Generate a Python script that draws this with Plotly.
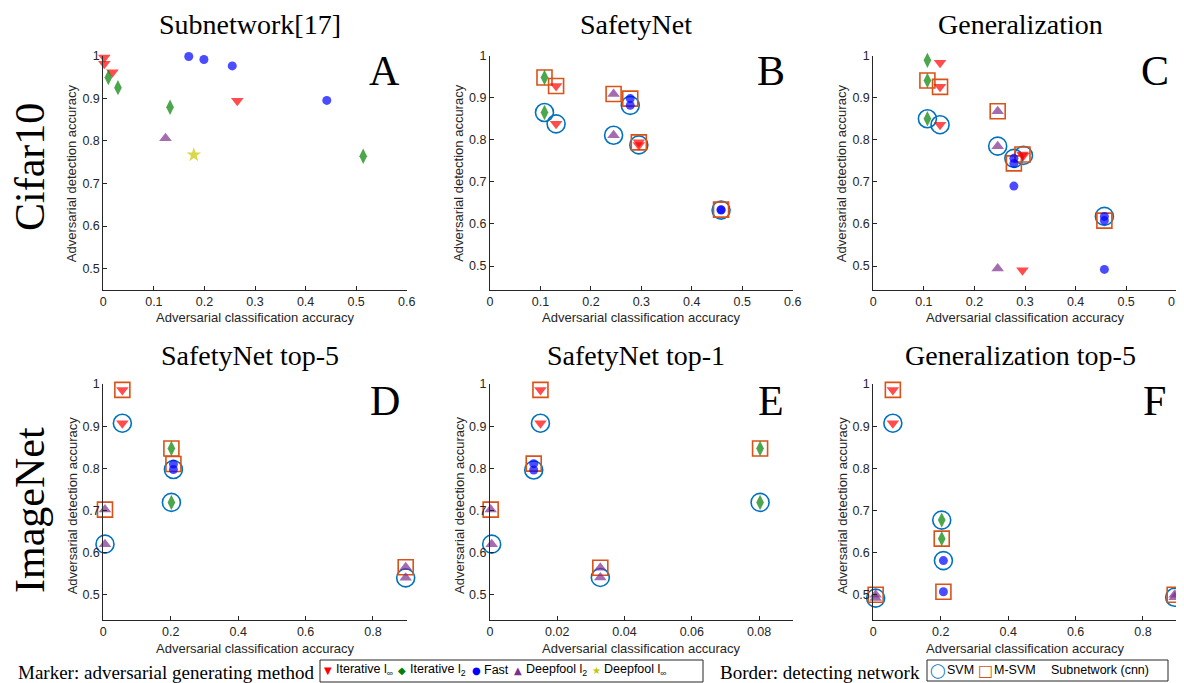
import plotly.graph_objects as go

# page body has an 8px margin: the figure is drawn 8px right / 8px down
OFF = 8
W, H = 1184, 683

# ---------------- data ----------------
# method codes: linf = Iterative l_inf, l2 = Iterative l_2, fast = Fast,
#               df2 = Deepfool l_2, dfinf = Deepfool l_inf
# border codes: svm = SVM, msvm = M-SVM, cnn = Subnetwork (cnn)

a_x = [0.002, 0.002, 0.018, 0.265, 0.010, 0.029, 0.132, 0.514, 0.169, 0.199, 0.255, 0.442, 0.123, 0.179]
a_y = [0.996, 0.981, 0.961, 0.894, 0.949, 0.925, 0.879, 0.764, 0.998, 0.991, 0.976, 0.895, 0.806, 0.767]
a_method = ["linf", "linf", "linf", "linf", "l2", "l2", "l2", "l2", "fast", "fast", "fast", "fast", "df2", "dfinf"]
a_border = ["cnn"] * 14

b_x = [0.108, 0.108, 0.131, 0.131, 0.245, 0.245, 0.278, 0.278, 0.295, 0.295, 0.458, 0.458]
b_y = [0.948, 0.865, 0.928, 0.838, 0.909, 0.811, 0.898, 0.882, 0.794, 0.788, 0.634, 0.633]
b_method = ["l2", "l2", "linf", "linf", "df2", "df2", "fast", "fast", "linf", "linf", "fast", "fast"]
b_border = ["msvm", "svm"] * 6

c_x = [0.107, 0.107, 0.107, 0.132, 0.132, 0.132, 0.246, 0.246, 0.246,
       0.278, 0.278, 0.278, 0.295, 0.297, 0.295, 0.457, 0.457, 0.457]
c_y = [0.989, 0.941, 0.850, 0.983, 0.926, 0.836, 0.868, 0.785, 0.494,
       0.756, 0.744, 0.690, 0.765, 0.763, 0.490, 0.618, 0.608, 0.492]
c_method = ["l2", "l2", "l2", "linf", "linf", "linf", "df2", "df2", "df2",
            "fast", "fast", "fast", "linf", "linf", "linf", "fast", "fast", "fast"]
c_border = ["cnn", "msvm", "svm", "cnn", "msvm", "svm", "msvm", "svm", "cnn",
            "svm", "msvm", "cnn", "msvm", "svm", "cnn", "svm", "msvm", "cnn"]

d_x = [0.0565, 0.0565, 0.202, 0.202, 0.208, 0.208, 0.005, 0.005, 0.897, 0.897]
d_y = [0.986, 0.907, 0.847, 0.719, 0.810, 0.797, 0.702, 0.620, 0.565, 0.540]
d_method = ["linf", "linf", "l2", "l2", "fast", "fast", "df2", "df2", "df2", "df2"]
d_border = ["msvm", "svm"] * 5

e_x = [0.0150, 0.0150, 0.0130, 0.0130, 0.0002, 0.0005, 0.0328, 0.0328, 0.0803, 0.0803]
e_y = [0.986, 0.907, 0.811, 0.796, 0.702, 0.620, 0.564, 0.541, 0.847, 0.719]
e_method = ["linf", "linf", "fast", "fast", "df2", "df2", "df2", "df2", "l2", "l2"]
e_border = ["msvm", "svm"] * 5

f_x = [0.058, 0.058, 0.203, 0.203, 0.208, 0.208, 0.007, 0.007, 0.894, 0.894]
f_y = [0.986, 0.907, 0.677, 0.633, 0.581, 0.507, 0.500, 0.492, 0.500, 0.494]
f_method = ["linf", "linf", "l2", "l2", "fast", "fast", "df2", "df2", "df2", "df2"]
f_border = ["msvm", "svm", "svm", "msvm", "svm", "msvm", "msvm", "svm", "msvm", "svm"]

panel_titles = ["Subnetwork[17]", "SafetyNet", "Generalization",
                "SafetyNet top-5", "SafetyNet top-1", "Generalization top-5"]
panel_letters = ["A", "B", "C", "D", "E", "F"]
row_labels = ["Cifar10", "ImageNet"]
x_ticks_cifar = [0, 0.1, 0.2, 0.3, 0.4, 0.5, 0.6]
x_ticks_imnet = [0, 0.2, 0.4, 0.6, 0.8]
x_ticks_top1 = [0, 0.02, 0.04, 0.06, 0.08]
y_ticks = [0.5, 0.6, 0.7, 0.8, 0.9, 1]
method_keys = ["linf", "l2", "fast", "df2", "dfinf"]
method_names = ["Iterative l<sub>∞</sub>", "Iterative l<sub>2</sub>", "Fast",
                "Deepfool l<sub>2</sub>", "Deepfool l<sub>∞</sub>"]
border_names = ["SVM", "M-SVM", "Subnetwork (cnn)"]

# ---------------- styles ----------------
M_STYLE = {
    "linf": ("triangle-down", "#FF0000", 11, "▼"),
    "l2": ("diamond-tall", "#008000", 11, "◆"),
    "fast": ("circle", "#0000FF", 9, "●"),
    "df2": ("triangle-up", "#7E2F8E", 11, "▲"),
    "dfinf": ("star", "#C8C800", 11, "★"),
}
B_STYLE = {
    "svm": ("circle-open", "#0072BD", 18),
    "msvm": ("square-open", "#D95319", 15),
}
AX = "#262626"
SANS = "Liberation Sans"
SERIF = "Liberation Serif"

panels = [
    (a_x, a_y, a_method, a_border, x_ticks_cifar, [0, 0.6], [0.45, 1]),
    (b_x, b_y, b_method, b_border, x_ticks_cifar, [0, 0.6], [0.443, 1]),
    (c_x, c_y, c_method, c_border, x_ticks_cifar, [0, 0.6], [0.443, 1]),
    (d_x, d_y, d_method, d_border, x_ticks_imnet, [0, 0.9], [0.44, 1]),
    (e_x, e_y, e_method, e_border, x_ticks_top1, [0, 0.09], [0.44, 1]),
    (f_x, f_y, f_method, f_border, x_ticks_imnet, [0, 0.9], [0.44, 1]),
]

# positions in window pixels
col_px = [(103.3, 406.7), (490.0, 792.7), (873.3, 1176.7)]
row_px = [(55.7, 290.0), (384.0, 620.0)]


def fx(x):
    return (x - OFF) / W


def fy(y):
    return 1 - (y - OFF) / H


fig = go.Figure()
layout = dict(width=W, height=H, margin=dict(l=0, r=0, t=0, b=0, pad=0), autosize=False,
              paper_bgcolor="white", plot_bgcolor="white", showlegend=False)
annotations = []
shapes = []


def ann(text, x, y, size, family, color="#000000", xanchor="center", angle=0):
    annotations.append(dict(text=text, x=fx(x), y=fy(y), xref="paper", yref="paper",
                            xanchor=xanchor, yanchor="middle", showarrow=False,
                            textangle=angle, borderpad=0,
                            font=dict(size=size, family=family, color=color)))


for i, (xs, ys, ms, bs, xt, xr, yr) in enumerate(panels):
    r, c = divmod(i, 3)
    n = i + 1
    xa = "xaxis" if n == 1 else f"xaxis{n}"
    ya = "yaxis" if n == 1 else f"yaxis{n}"
    xref = "x" if n == 1 else f"x{n}"
    yref = "y" if n == 1 else f"y{n}"
    x0, x1 = col_px[c]
    y0, y1 = row_px[r]
    common = dict(showline=True, linecolor=AX, linewidth=1, ticks="inside", ticklen=4,
                  tickcolor=AX, showgrid=False, zeroline=False, mirror=False,
                  automargin=False, ticklabeloverflow="allow",
                  tickfont=dict(family=SANS, size=12.5, color=AX))
    layout[xa] = dict(common, domain=[fx(x0), fx(x1)], range=xr, tickvals=xt,
                      ticktext=[f"{v:g}" for v in xt], anchor=yref)
    layout[ya] = dict(common, domain=[fy(y1), fy(y0)], range=yr, tickvals=y_ticks,
                      ticktext=[f"{v:g}" for v in y_ticks], anchor=xref)

    # borders (detecting network)
    for bkey in ["svm", "msvm"]:
        sym, col, size = B_STYLE[bkey]
        bx = [x for x, b in zip(xs, bs) if b == bkey]
        by = [y for y, b in zip(ys, bs) if b == bkey]
        if bx:
            fig.add_trace(go.Scatter(x=bx, y=by, mode="markers", xaxis=xref, yaxis=yref,
                                     cliponaxis=False, hoverinfo="skip",
                                     marker=dict(symbol=sym, color=col, size=size,
                                                 line=dict(width=1.6, color=col))))
    # markers (generating method)
    fig.add_trace(go.Scatter(
        x=xs, y=ys, mode="markers", xaxis=xref, yaxis=yref, cliponaxis=False,
        marker=dict(symbol=[M_STYLE[m][0] for m in ms],
                    color=[M_STYLE[m][1] for m in ms],
                    size=[M_STYLE[m][2] for m in ms],
                    line=dict(width=0))))

    # title, letter, axis titles
    cx = (x0 + x1) / 2
    ann(panel_titles[i], cx - 5, 24 if r == 0 else 355, 28, SERIF)
    ann(panel_letters[i], x1 - 22, 71 if r == 0 else 401, 42, SERIF)
    ann("Adversarial classification accuracy", cx, 318 if r == 0 else 648, 13, SANS, AX)
    ann("Adversarial detection accuracy", x0 - 31, (y0 + y1) / 2 + (0 if r == 0 else 3),
        13, SANS, AX, angle=-90)

ann(row_labels[0], 30, 167, 42, SERIF, angle=-90)
ann(row_labels[1], 30, 510, 42, SERIF, angle=-90)

# ---------------- legends ----------------
ann("Marker: adversarial generating method", 315, 672, 19, SERIF, xanchor="right")
shapes.append(dict(type="rect", xref="paper", yref="paper",
                   x0=fx(320), x1=fx(703), y0=fy(682), y1=fy(660),
                   line=dict(color=AX, width=1), fillcolor="rgba(0,0,0,0)"))
gx = [328, 402, 476, 518, 596]
for key, name, xg in zip(method_keys, method_names, gx):
    ann(M_STYLE[key][3], xg, 670, 10, "DejaVu Sans", M_STYLE[key][1])
    ann(name, xg + 7, 670, 12.5, SANS, "#000000", xanchor="left")

ann("Border: detecting network", 921, 672, 19, SERIF, xanchor="right")
shapes.append(dict(type="rect", xref="paper", yref="paper",
                   x0=fx(927), x1=fx(1168), y0=fy(681), y1=fy(660),
                   line=dict(color=AX, width=1), fillcolor="rgba(0,0,0,0)"))
ann("◯", 938, 670, 14, "DejaVu Sans", B_STYLE["svm"][1])
ann(border_names[0], 946, 670, 12.5, SANS, "#000000", xanchor="left")
ann("□", 985, 670, 16, "DejaVu Sans", B_STYLE["msvm"][1])
ann(border_names[1], 993, 670, 12.5, SANS, "#000000", xanchor="left")
ann(border_names[2], 1050, 670, 12.5, SANS, "#000000", xanchor="left")

layout["annotations"] = annotations
layout["shapes"] = shapes
fig.update_layout(**layout)
fig.write_html("out.html")
